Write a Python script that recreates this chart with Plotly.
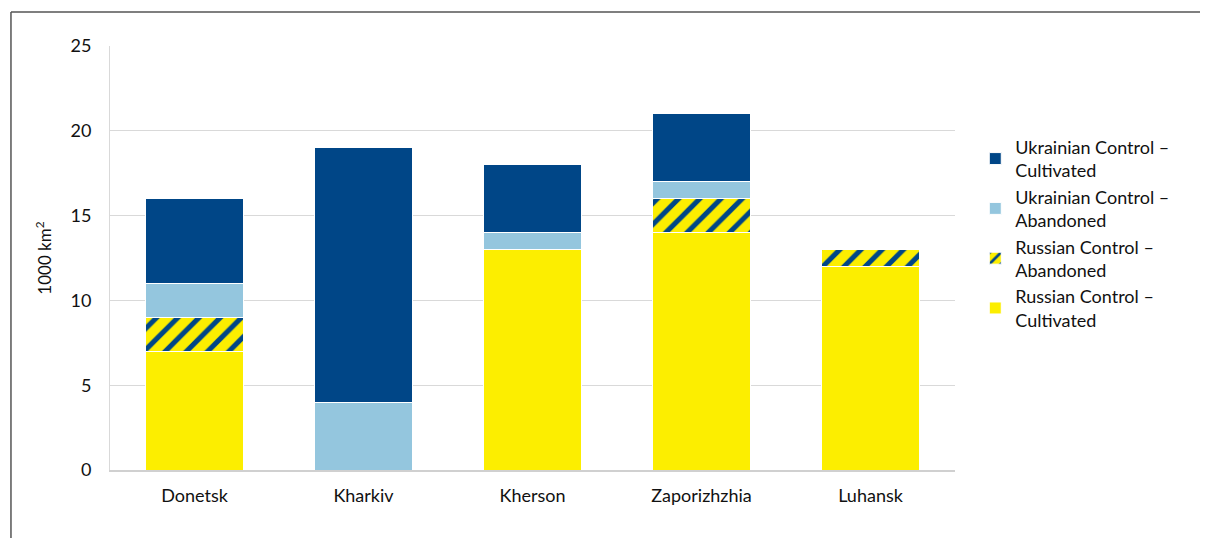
import plotly.graph_objects as go

regions = ["Donetsk", "Kharkiv", "Kherson", "Zaporizhzhia", "Luhansk"]
russian_cultivated = [7, 0, 13, 14, 12]
russian_abandoned = [2, 0, 0, 2, 1]
ukrainian_abandoned = [2, 4, 1, 1, 0]
ukrainian_cultivated = [5, 15, 4, 4, 0]
y_ticks = [0, 5, 10, 15, 20, 25]

DARK = "#004687"
LIGHT = "#94c6de"
YELLOW = "#fcee00"
FONT = "Lato, 'Open Sans', sans-serif"

fig = go.Figure()
fig.add_trace(go.Bar(name="Russian Control –<br>Cultivated", x=regions, y=russian_cultivated,
                     marker=dict(color=YELLOW, line=dict(color="white", width=1))))
fig.add_trace(go.Bar(name="Russian Control –<br>Abandoned", x=regions, y=russian_abandoned,
                     marker=dict(color=YELLOW, line=dict(color="white", width=1),
                                 pattern=dict(shape="/", fgcolor=DARK, bgcolor=YELLOW,
                                              size=15, solidity=0.34, fillmode="replace"))))
fig.add_trace(go.Bar(name="Ukrainian Control –<br>Abandoned", x=regions, y=ukrainian_abandoned,
                     marker=dict(color=LIGHT, line=dict(color="white", width=1))))
fig.add_trace(go.Bar(name="Ukrainian Control –<br>Cultivated", x=regions, y=ukrainian_cultivated,
                     marker=dict(color=DARK, line=dict(color="white", width=1))))

fig.update_layout(
    barmode="stack",
    bargap=0.42,
    width=1208, height=538,
    margin=dict(l=102, r=261, t=38, b=76),
    paper_bgcolor="white", plot_bgcolor="white",
    font=dict(family=FONT, size=18, color="#111111"),
    legend=dict(traceorder="reversed", x=1.024, y=0.805, xanchor="left", yanchor="top",
                font=dict(size=18), itemwidth=30, tracegroupgap=4),
    showlegend=True,
)
fig.update_yaxes(range=[0, 25], tickvals=y_ticks, showgrid=True, gridcolor="#d9d9d9",
                 showline=True, linecolor="#d9d9d9", linewidth=1, zeroline=False,
                 ticks="", ticklabelstandoff=14,
                 title=dict(text="1000 km<sup>2</sup>", font=dict(size=17), standoff=14))
fig.update_xaxes(showline=True, linecolor="#d0d0d0", linewidth=2, ticks="",
                 ticklabelstandoff=8)

# outer frame (top and left edges)
fig.add_shape(type="line", xref="paper", yref="paper", x0=-0.1172, x1=1.4, y0=1.0802, y1=1.0802,
              line=dict(color="#555555", width=1.5))
fig.add_shape(type="line", xref="paper", yref="paper", x0=-0.1172, x1=-0.1172, y0=1.0802, y1=-0.19,
              line=dict(color="#555555", width=1.5))

fig.write_html("out.html")
